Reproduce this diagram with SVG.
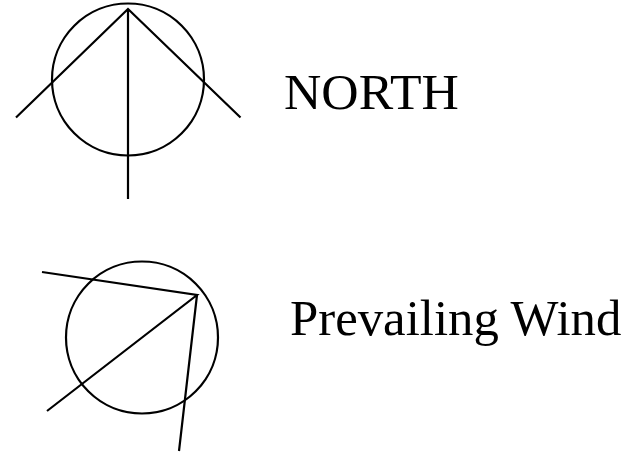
<svg xmlns="http://www.w3.org/2000/svg" width="621" height="463" viewBox="0 0 621 463">
<style>
.s{fill:none;stroke:#000;stroke-width:2.2}
.t{font-family:"Liberation Serif","Times New Roman",serif;fill:#000}
</style>
<rect width="621" height="463" fill="#fff"/>
<g id="north-symbol">
<circle class="s" cx="128" cy="79.5" r="76"/>
<path class="s" d="M16 117.5L128 9L240.500 117.500M128 9V199"/>
</g>
<g id="north-label"><text class="t" x="284" y="109" font-size="51.700">NORTH</text></g>
<g id="wind-symbol">
<circle class="s" cx="142" cy="337.500" r="76"/>
<path class="s" d="M42 272L197 295L47 411M197 295L179 451"/>
</g>
<g id="wind-label"><text class="t" x="290" y="335" font-size="50.800">Prevailing Wind</text></g>
</svg>
